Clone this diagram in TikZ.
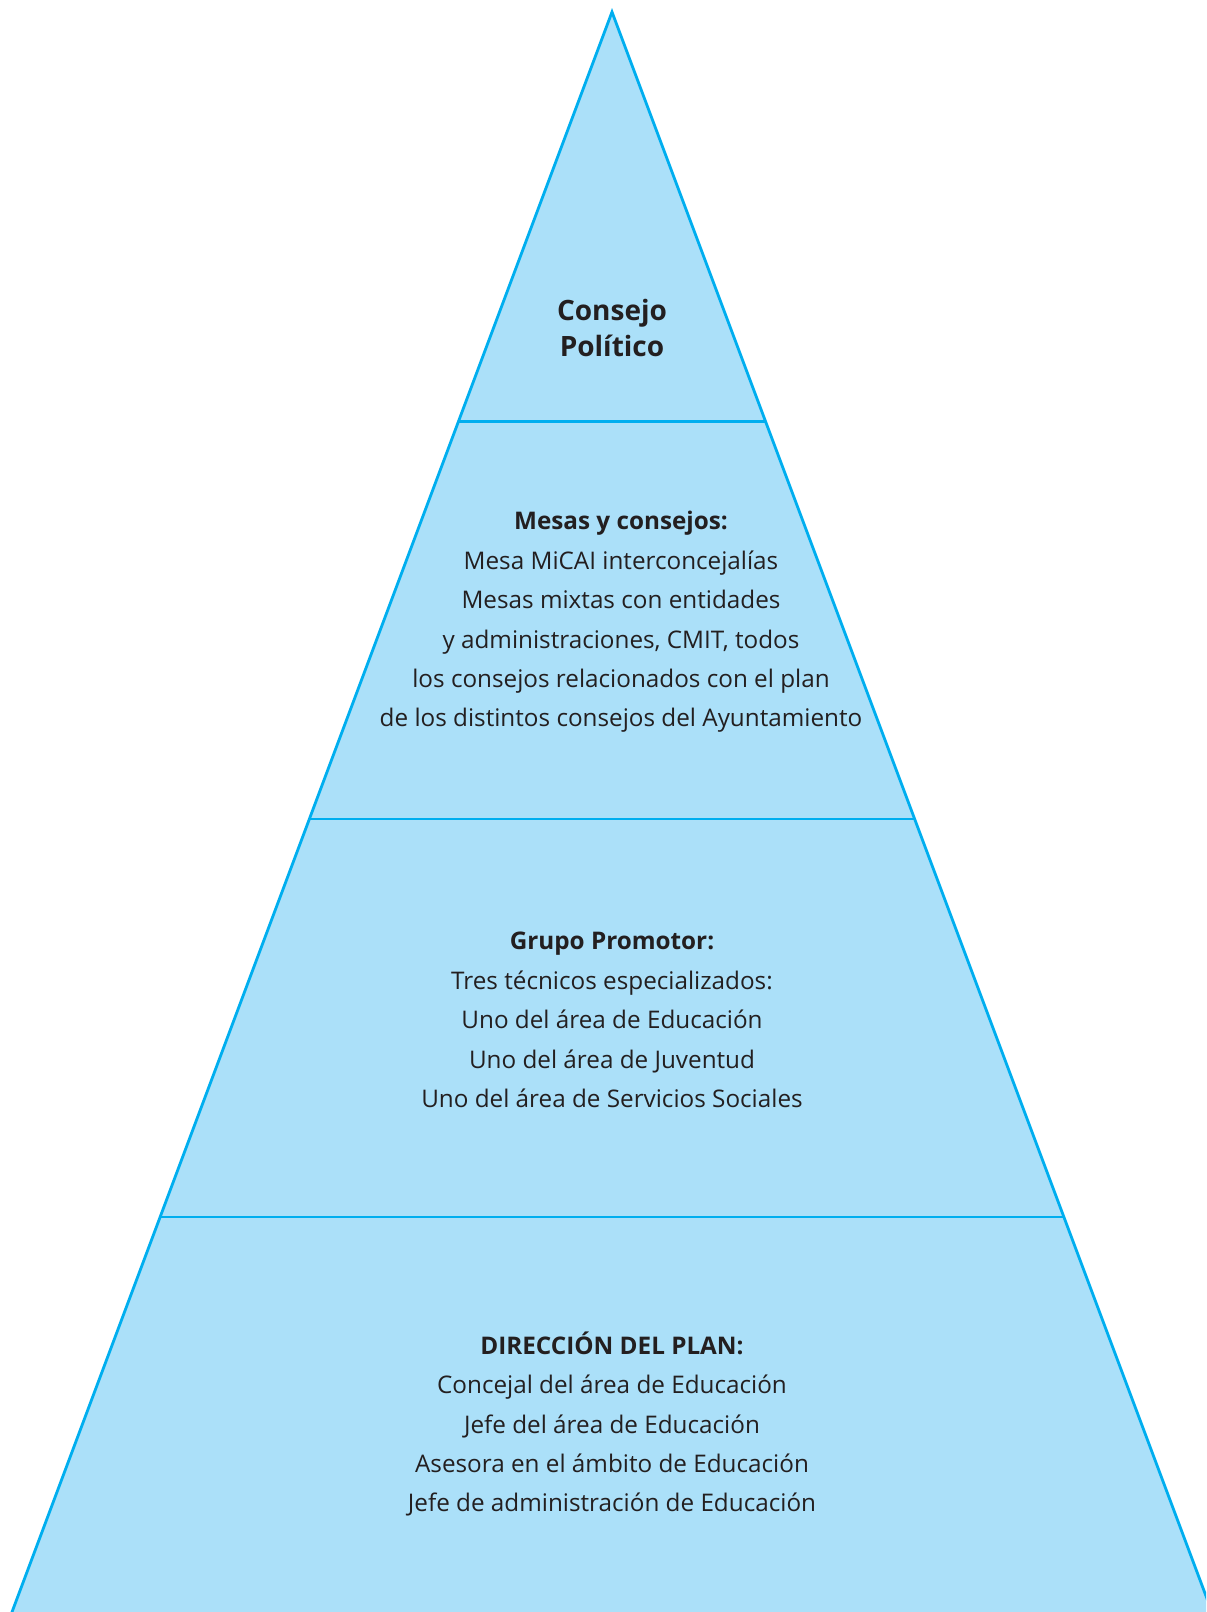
\documentclass[tikz,border=0pt]{standalone}
\usepackage{fontspec}
\setmainfont{Open Sans}
\usetikzlibrary{calc}
\definecolor{tierfill}{HTML}{ABE0F9}
\definecolor{tierline}{HTML}{00AEEF}
\definecolor{tiertext}{HTML}{231F20}
\begin{document}
\begin{tikzpicture}[x=0.75pt,y=-0.75pt,
    tier/.style={text=tiertext, align=center, inner sep=0pt,
      font=\fontsize{18.2}{29.6}\selectfont},
    top/.style={text=tiertext, align=center, inner sep=0pt,
      font=\fontsize{21}{27}\selectfont\bfseries}
]
    \useasboundingbox (0,0) rectangle (1206,1612);
    \clip (0,0) rectangle (1206,1612);
    % pyramid outline (base runs off the page)
    \coordinate (apex) at (612,12);
    \coordinate (bl) at (-3,1652);
    \coordinate (br) at (1227,1652);
    \draw[tierline, fill=tierfill, line width=2.1pt, line join=miter]
      (bl) -- (apex) -- (br) -- cycle;
    % tier separators
    \foreach \t/\name in {0.2496/a, 0.4921/b, 0.7348/c} {
      \coordinate (l\name) at ($(apex)!\t!(bl)$);
      \coordinate (r\name) at ($(apex)!\t!(br)$);
      \draw[tierline, line width=2.1pt] (l\name) -- (r\name);
    }
    % texts
    \node[top] (politico) at (612,328) {Consejo\\Político};
    \node[tier] (mesas) at (621,622) {\textbf{Mesas y consejos:}\\
      Mesa MiCAI interconcejalías\\
      Mesas mixtas con entidades\\
      y administraciones, CMIT, todos\\
      los consejos relacionados con el plan\\
      de los distintos consejos del Ayuntamiento};
    \node[tier] (promotor) at (612,1020) {\textbf{Grupo Promotor:}\\
      Tres técnicos especializados:\\
      Uno del área de Educación\\
      Uno del área de Juventud\\
      Uno del área de Servicios Sociales};
    \node[tier] (direccion) at (612,1424) {\textbf{DIRECCIÓN DEL PLAN:}\\
      Concejal del área de Educación\\
      Jefe del área de Educación\\
      Asesora en el ámbito de Educación\\
      Jefe de administración de Educación};
\end{tikzpicture}
\end{document}
